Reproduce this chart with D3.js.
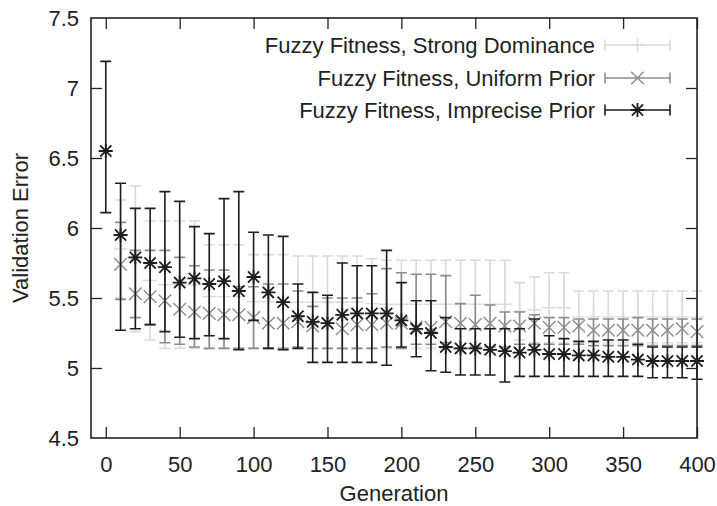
<!DOCTYPE html>
<html>
<head>
<meta charset="utf-8">
<script src="https://cdn.jsdelivr.net/npm/d3@7"></script>
<style>
  html, body { margin: 0; padding: 0; background: #fff; }
  svg { display: block; font-family: "Liberation Sans", Arial, Helvetica, sans-serif; }
</style>
</head>
<body>
<svg id="chart" width="717" height="506"></svg>
<script>
// Generations sampled every 10 steps
const generations = d3.range(0, 401, 10);

// Fuzzy Fitness, Strong Dominance (from generation 10): bar top / bottom
const strongX = d3.range(10, 401, 10);
const strongTop = [6.20, 6.30, 6.05, 6.05, 6.05, 6.05, 5.88, 5.88, 5.88, 5.81,
                   5.81, 5.81, 5.80, 5.80, 5.80, 5.80, 5.80, 5.78, 5.77, 5.77,
                   5.77, 5.77, 5.77, 5.77, 5.77, 5.77, 5.77, 5.61, 5.65, 5.68,
                   5.68, 5.55, 5.55, 5.55, 5.55, 5.55, 5.55, 5.55, 5.55, 5.55];
const strongBottom = [5.50, 5.26, 5.20, 5.14, 5.14, 5.14, 5.14, 5.14, 5.14, 5.14,
                      5.14, 5.14, 5.14, 5.14, 5.14, 5.14, 5.14, 5.14, 5.14, 5.14,
                      5.14, 5.14, 5.14, 5.14, 5.14, 5.14, 5.14, 5.20, 5.18, 5.18,
                      5.18, 5.18, 5.18, 5.18, 5.18, 5.18, 5.18, 5.18, 5.18, 5.18];

// Fuzzy Fitness, Uniform Prior (from generation 10)
const uniformX = d3.range(10, 401, 10);
const uniformMean = [5.74, 5.53, 5.51, 5.48, 5.42, 5.40, 5.39, 5.38, 5.38, 5.36,
                     5.32, 5.32, 5.33, 5.30, 5.32, 5.28, 5.31, 5.31, 5.32, 5.32,
                     5.29, 5.29, 5.33, 5.32, 5.31, 5.32, 5.30, 5.30, 5.32, 5.29,
                     5.29, 5.30, 5.27, 5.27, 5.27, 5.27, 5.27, 5.27, 5.28, 5.26];
const uniformTop = [6.04, 5.84, 5.84, 5.84, 5.79, 5.73, 5.70, 5.70, 5.58, 5.58,
                    5.60, 5.60, 5.55, 5.44, 5.50, 5.50, 5.50, 5.53, 5.71, 5.68,
                    5.67, 5.67, 5.66, 5.46, 5.52, 5.45, 5.40, 5.40, 5.38, 5.36,
                    5.36, 5.35, 5.35, 5.35, 5.35, 5.36, 5.35, 5.35, 5.35, 5.35];
const uniformBottom = [5.49, 5.36, 5.31, 5.18, 5.17, 5.15, 5.14, 5.14, 5.14, 5.14,
                       5.14, 5.14, 5.15, 5.14, 5.14, 5.14, 5.14, 5.14, 5.15, 5.14,
                       5.17, 5.17, 5.18, 5.14, 5.15, 5.15, 5.15, 5.17, 5.17, 5.17,
                       5.17, 5.17, 5.16, 5.16, 5.16, 5.16, 5.16, 5.16, 5.16, 5.16];

// Fuzzy Fitness, Imprecise Prior (from generation 0)
const impreciseX = generations;
const impreciseMean = [6.55, 5.95, 5.79, 5.75, 5.72, 5.61, 5.64, 5.60, 5.62, 5.55,
                       5.65, 5.54, 5.47, 5.37, 5.33, 5.32, 5.38, 5.39, 5.39, 5.39,
                       5.34, 5.28, 5.25, 5.15, 5.14, 5.14, 5.13, 5.12, 5.11, 5.13,
                       5.10, 5.10, 5.09, 5.09, 5.08, 5.08, 5.06, 5.05, 5.05, 5.05, 5.05];
const impreciseTop = [7.19, 6.32, 6.14, 6.14, 6.26, 6.19, 6.01, 5.96, 6.21, 6.26,
                      5.97, 5.95, 5.94, 5.60, 5.54, 5.52, 5.75, 5.73, 5.73, 5.84,
                      5.61, 5.48, 5.48, 5.36, 5.28, 5.28, 5.28, 5.28, 5.28, 5.35,
                      5.23, 5.21, 5.19, 5.19, 5.20, 5.20, 5.17, 5.15, 5.15, 5.15, 5.15];
const impreciseBottom = [6.11, 5.27, 5.28, 5.31, 5.26, 5.22, 5.21, 5.23, 5.21, 5.13,
                         5.34, 5.14, 5.13, 5.14, 5.04, 5.04, 5.04, 5.04, 5.04, 5.02,
                         5.15, 5.08, 4.98, 4.97, 4.95, 4.95, 4.95, 4.90, 4.94, 4.94,
                         4.94, 4.94, 4.94, 4.94, 4.94, 4.94, 4.94, 4.93, 4.93, 4.93, 4.92];

const xTicks = d3.range(0, 401, 50);
const yTicks = [4.5, 5, 5.5, 6, 6.5, 7, 7.5];

const seriesNames = ["Fuzzy Fitness, Strong Dominance",
                     "Fuzzy Fitness, Uniform Prior",
                     "Fuzzy Fitness, Imprecise Prior"];
const seriesColors = ["#dadada", "#8c8c8c", "#1e1e1e"];
const seriesMarks = ["plus", "cross", "star"];

// Assemble rows for each series
const strongRows = strongX.map((g, i) => ({
  g, hi: strongTop[i], lo: strongBottom[i], mean: (strongTop[i] + strongBottom[i]) / 2 }));
const uniformRows = uniformX.map((g, i) => ({
  g, hi: uniformTop[i], lo: uniformBottom[i], mean: uniformMean[i] }));
const impreciseRows = impreciseX.map((g, i) => ({
  g, hi: impreciseTop[i], lo: impreciseBottom[i], mean: impreciseMean[i] }));
const allSeries = [strongRows, uniformRows, impreciseRows];

const svg = d3.select("#chart");
const plotL = 91, plotR = 697, plotT = 18, plotB = 438;
const fontSize = 22;

const x = d3.scaleLinear().domain([-10, 400]).range([plotL, plotR]);
const y = d3.scaleLinear().domain([4.5, 7.5]).range([plotB, plotT]);

const tickLen = 11;
const fmt = v => String(+v.toFixed(1));

// Axes with inward ticks, mirrored on the opposite sides
const axisStyle = g => {
  g.select(".domain").remove();
  g.selectAll(".tick line").attr("stroke", "#222").attr("stroke-width", 1.3);
  g.selectAll(".tick text").attr("fill", "#222").attr("font-size", fontSize)
    .attr("font-family", "'Liberation Sans', Arial, sans-serif");
};

svg.append("g").attr("transform", `translate(0,${plotB})`)
  .call(d3.axisBottom(x).tickValues(xTicks).tickSizeInner(-tickLen).tickSizeOuter(0).tickPadding(18))
  .call(axisStyle);
svg.append("g").attr("transform", `translate(0,${plotT})`)
  .call(d3.axisTop(x).tickValues(xTicks).tickSizeInner(-tickLen).tickSizeOuter(0).tickFormat(""))
  .call(axisStyle);
svg.append("g").attr("transform", `translate(${plotL},0)`)
  .call(d3.axisLeft(y).tickValues(yTicks).tickSizeInner(-tickLen).tickSizeOuter(0).tickFormat(fmt).tickPadding(12))
  .call(axisStyle)
  .call(g => g.selectAll(".tick line").filter(d => d === yTicks[0] || d === yTicks[yTicks.length - 1]).remove());
svg.append("g").attr("transform", `translate(${plotR},0)`)
  .call(d3.axisRight(y).tickValues(yTicks.slice(1, -1)).tickSizeInner(-tickLen).tickSizeOuter(0).tickFormat(""))
  .call(axisStyle);

// Data marks
const cap = 5.5, ms = 7;
function drawMark(sel, kind, cx, cy, color) {
  const p = d3.path();
  if (kind === "plus" || kind === "star") {
    p.moveTo(cx - ms, cy); p.lineTo(cx + ms, cy);
    p.moveTo(cx, cy - ms); p.lineTo(cx, cy + ms);
  }
  if (kind === "cross" || kind === "star") {
    const d = kind === "star" ? ms * 0.8 : ms * 0.9;
    p.moveTo(cx - d, cy - d); p.lineTo(cx + d, cy + d);
    p.moveTo(cx - d, cy + d); p.lineTo(cx + d, cy - d);
  }
  sel.append("path").attr("d", p.toString()).attr("stroke", color)
    .attr("stroke-width", kind === "star" ? 1.8 : 1.4).attr("fill", "none");
}

const plot = svg.append("g");
allSeries.forEach((rows, si) => {
  const color = seriesColors[si];
  const g = plot.append("g");
  rows.forEach(r => {
    const cx = x(r.g);
    const p = d3.path();
    p.moveTo(cx, y(r.hi)); p.lineTo(cx, y(r.lo));
    p.moveTo(cx - cap, y(r.hi)); p.lineTo(cx + cap, y(r.hi));
    p.moveTo(cx - cap, y(r.lo)); p.lineTo(cx + cap, y(r.lo));
    g.append("path").attr("d", p.toString()).attr("stroke", color)
      .attr("stroke-width", 1.6).attr("fill", "none");
    drawMark(g, seriesMarks[si], cx, y(r.mean), color);
  });
});

// Frame
svg.append("rect").attr("x", plotL).attr("y", plotT)
  .attr("width", plotR - plotL).attr("height", plotB - plotT)
  .attr("fill", "none").attr("stroke", "#222").attr("stroke-width", 1.6);

// Legend
const legend = svg.append("g");
const rowY = [45, 78, 110];
seriesNames.forEach((name, i) => {
  const ly = rowY[i];
  const color = seriesColors[i];
  legend.append("text").attr("x", 595).attr("y", ly).attr("dy", "0.35em")
    .attr("text-anchor", "end").attr("font-size", fontSize).attr("fill", "#222").text(name);
  const p = d3.path();
  p.moveTo(605, ly); p.lineTo(670, ly);
  p.moveTo(605, ly - cap); p.lineTo(605, ly + cap);
  p.moveTo(670, ly - cap); p.lineTo(670, ly + cap);
  legend.append("path").attr("d", p.toString()).attr("stroke", color)
    .attr("stroke-width", 1.6).attr("fill", "none");
  drawMark(legend, seriesMarks[i], 637.5, ly, color);
});

// Axis titles
svg.append("text").attr("x", (plotL + plotR) / 2).attr("y", 501)
  .attr("text-anchor", "middle").attr("font-size", fontSize).attr("fill", "#222").text("Generation");
svg.append("text").attr("transform", `translate(28,${(plotT + plotB) / 2}) rotate(-90)`)
  .attr("text-anchor", "middle").attr("font-size", fontSize).attr("fill", "#222").text("Validation Error");
</script>
</body>
</html>
